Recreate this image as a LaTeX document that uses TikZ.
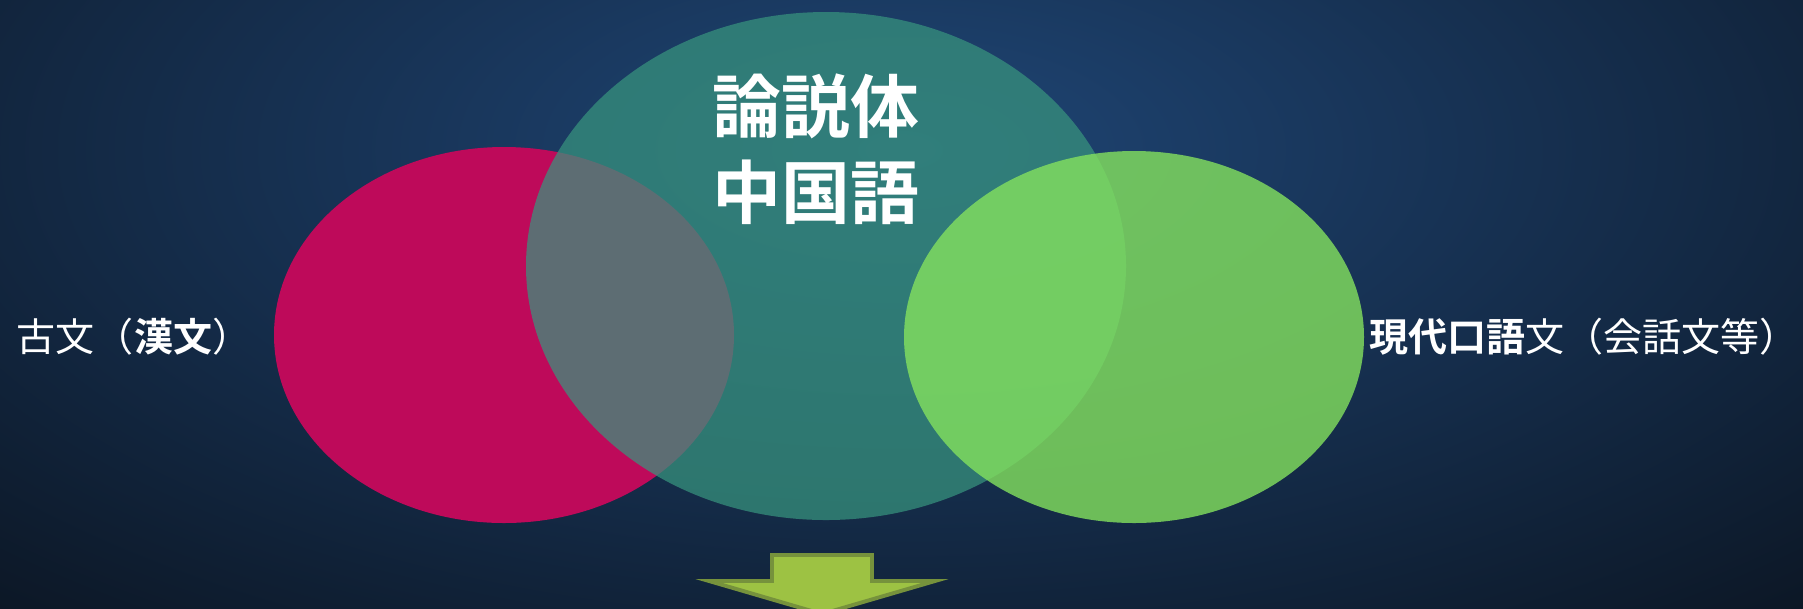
\documentclass[tikz,border=0pt]{standalone}
\usepackage{fontspec}
\newfontfamily\jp{Noto Sans CJK JP}[BoldFont={* Bold}]
\definecolor{bgglow}{HTML}{1F4676}
\definecolor{bgdark}{HTML}{0B1522}
\definecolor{kobun}{HTML}{BE0A5A}
\definecolor{ronsetsu}{HTML}{38947E}
\definecolor{kougo}{HTML}{84E25E}
\definecolor{arrowfill}{HTML}{9DC243}
\definecolor{arrowedge}{HTML}{76923C}
\tikzset{
  label/.style={text=white, font=\jp\fontsize{11.1}{13}\selectfont, inner sep=0pt},
  title/.style={text=white, font=\jp\bfseries\fontsize{19.6}{24.3}\selectfont, align=center, inner sep=0pt}
}

\begin{document}
\begin{tikzpicture}[x=0.01cm, y=-0.01cm]
        \useasboundingbox (0,0) rectangle (1803,608);
        \begin{scope}
            \clip (0,0) rectangle (1803,608);
            \shade [inner color=bgglow, outer color=bgdark] (-500,-500) rectangle (2300,800);
            % circles
            \fill [kobun] (504,335) ellipse [x radius=230, y radius=188];
            \fill [ronsetsu, fill opacity=.72] (826,266) ellipse [x radius=300, y radius=254];
            \fill [kougo, fill opacity=.8] (1134,337) ellipse [x radius=230, y radius=186];
            % arrow down
            \filldraw [fill=arrowfill, draw=arrowedge, line width=1.1pt, line join=miter]
                (772,555) -- (872,555) -- (872,581) -- (935,581) -- (822,614)
                -- (709,581) -- (772,581) -- cycle;
        \end{scope}
        \node [title] (ronsetsutai) at (816,149) {論説体\\中国語};
        \node [label] (kobunlabel) at (134,337) {古文（{\bfseries 漢文}）};
        \node [label] (kougolabel) at (1584,337) {{\bfseries 現代口語}文（会話文等）};
    \end{tikzpicture}
\end{document}
